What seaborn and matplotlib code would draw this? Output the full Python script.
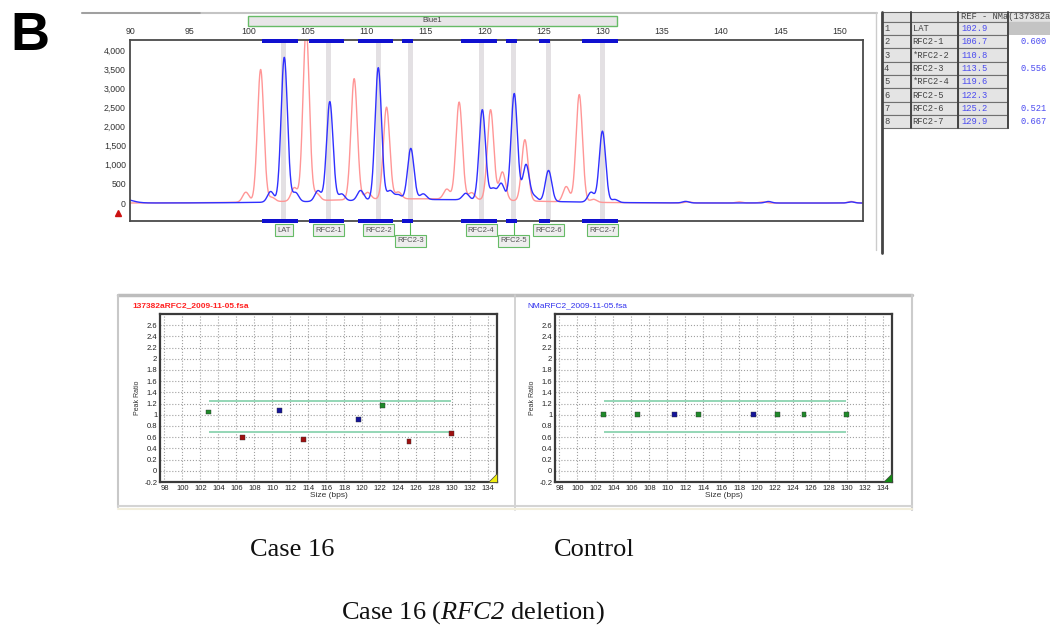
import numpy as np
import pandas as pd
import matplotlib
matplotlib.use("Agg")
import matplotlib.pyplot as plt
import matplotlib.transforms as mtrans
from matplotlib.patches import Rectangle, Polygon
from matplotlib.ticker import MultipleLocator
import seaborn as sns

# ---- data ----
# electropherogram peaks (bp, height)
blue_pos = [101.9, 103.05, 104.0, 105.9, 106.9, 107.9, 109.5, 111.0, 112.0, 112.7,
            113.75, 114.8, 118.4, 119.8, 120.7, 121.4, 122.5, 123.5, 124.2, 125.4,
            129.0, 129.96, 131.0, 137.0, 144.0, 151.0]
blue_height = [280, 3780, 240, 280, 2600, 180, 260, 3460, 240, 130,
               1340, 150, 170, 2360, 300, 440, 2800, 950, 120, 810,
               260, 1860, 80, 40, 40, 30]
red_pos = [99.8, 101.05, 102.0, 103.9, 104.9, 105.8, 108.96, 110.1, 111.7, 112.7,
           116.8, 117.84, 118.9, 120.5, 121.5, 123.4, 126.9, 128.0, 129.2,
           137.2, 141.5, 143.5, 151.0]
red_height = [260, 3460, 110, 350, 4500, 180, 3160, 180, 2400, 180,
              260, 2540, 180, 2360, 740, 1600, 400, 2810, 80,
              30, 30, 30, 40]
# broad baseline humps (bp, height, width)
blue_base = [(115.5, 90, 8.0), (89.3, 110, 0.8)]
red_base = [(114.0, 110, 8.0)]

# probe bins (bp)
bin_lo = [101.2, 105.15, 109.25, 112.97, 118.0, 121.84, 124.6, 128.27]
bin_hi = [104.2, 108.1, 112.26, 113.95, 121.07, 122.74, 125.56, 131.28]
bin_mid = [103.0, 106.8, 111.0, 113.7, 119.7, 122.45, 125.4, 129.95]
dye_range = (100.0, 131.2)

# probes and ratios
probes = ["LAT", "RFC2-1", "*RFC2-2", "RFC2-3", "*RFC2-4", "RFC2-5", "RFC2-6", "RFC2-7"]
sizes = [102.9, 106.7, 110.8, 113.5, 119.6, 122.3, 125.2, 129.9]
case_ratio = [1.05, 0.600, 1.07, 0.556, 0.92, 1.16, 0.521, 0.667]
case_status = ["ok", "del", "ref", "del", "ref", "ok", "del", "del"]
ctrl_ratio = [1.0, 1.0, 1.0, 1.0, 1.0, 1.0, 1.0, 1.0]
ctrl_status = ["ok", "ok", "ref", "ok", "ref", "ok", "ok", "ok"]
upper_limit, lower_limit = 1.25, 0.7

ratio_ticks = [-0.2, 0, 0.2, 0.4, 0.6, 0.8, 1, 1.2, 1.4, 1.6, 1.8, 2, 2.2, 2.4, 2.6]
size_ticks = list(range(98, 136, 2))
height_ticks = list(range(0, 4001, 500))
bp_ticks = list(range(90, 151, 5))

# ---- figure ----
W, H = 1050, 644
sns.set_style("white")
plt.rcParams["font.family"] = ["Liberation Sans", "DejaVu Sans"]
# math text is only used for the italic gene name in the caption
plt.rcParams["mathtext.fontset"] = "custom"
plt.rcParams["mathtext.rm"] = "Liberation Serif:italic"
plt.rcParams["mathtext.it"] = "Liberation Serif:italic"

fig = plt.figure(figsize=(W / 100, H / 100), dpi=100)


def box(x0, y0, x1, y1):
    return [x0 / W, 1 - y1 / H, (x1 - x0) / W, (y1 - y0) / H]


# overlay for frames / table, pixel coordinates
ov = fig.add_axes([0, 0, 1, 1])
ov.set_xlim(0, W)
ov.set_ylim(H, 0)
ov.axis("off")

# top panel frame
ov.plot([82, 877], [12.5, 12.5], color="#c4c4c4", lw=1.5)
ov.plot([82, 200], [12.5, 12.5], color="#999999", lw=1.2)
ov.plot([876, 876], [12, 250], color="#cccccc", lw=1)

# table
cols = [882, 910.7, 958.3, 1008.3, 1052]
hdr0, hdr1, rh = 11.7, 21.7, 13.33
ov.add_patch(Rectangle((cols[0], hdr0), cols[4] - cols[0], hdr1 - hdr0,
                       fc="#e2e2e2", ec="#666666", lw=0.8))
ov.text(cols[2] + 3, (hdr0 + hdr1) / 2, "REF - NMa(137382a", family="Liberation Mono",
        fontsize=6.3, color="#444444", va="center", ha="left", clip_on=True)
for i, name in enumerate(probes):
    y0 = hdr1 + i * rh
    for c in range(3):
        ov.add_patch(Rectangle((cols[c], y0), cols[c + 1] - cols[c], rh,
                               fc="#e4e4e4", ec="#707070", lw=0.8))
    ov.add_patch(Rectangle((cols[3], y0), cols[4] - cols[3], rh,
                           fc="#c4c4c4" if i == 0 else "white", ec="none"))
    yc = y0 + rh / 2
    ov.text(cols[0] + 2, yc, str(i + 1), family="Liberation Mono", fontsize=6.3,
            color="#444444", va="center")
    ov.text(cols[1] + 2, yc, name, family="Liberation Mono", fontsize=6.3,
            color="#444444", va="center")
    ov.text(cols[2] + 3, yc, f"{sizes[i]:.1f}", family="Liberation Mono", fontsize=6.3,
            color="#4a4af0", va="center")
    if case_status[i] == "del":
        ov.text(cols[3] + 12, yc, f"{case_ratio[i]:.3f}", family="Liberation Mono",
                fontsize=6.3, color="#4a4af0", va="center")
tbl_bottom = hdr1 + len(probes) * rh
for c in cols[1:4]:
    ov.plot([c, c], [hdr0, tbl_bottom], color="#444444", lw=1.4)
ov.plot([cols[0], cols[0]], [hdr0, 253], color="#444444", lw=2)

# bottom panel frames
ov.plot([118, 912], [295, 295], color="#bdbdbd", lw=2.5)
ov.plot([118, 118], [295, 507], color="#c8c8c8", lw=1.5)
ov.plot([515, 515], [295, 510], color="#cccccc", lw=1.2)
ov.plot([912, 912], [295, 510], color="#cccccc", lw=1.5)
ov.plot([118, 912], [506, 506], color="#d4d4d4", lw=1.5)
ov.plot([118, 912], [509, 509], color="#f2eedc", lw=1.5)

# ---- electropherogram ----
x_grid = np.linspace(89, 152, 4000)


def trace(pos, height, base, width=0.27):
    y = np.zeros_like(x_grid)
    for c, h in zip(pos, height):
        y += h * np.exp(-0.5 * ((x_grid - c) / width) ** 2)
    for c, h, w in base:
        y += h * np.exp(-0.5 * ((x_grid - c) / w) ** 2)
    return y


df_trace = pd.concat([
    pd.DataFrame({"bp": x_grid, "rfu": trace(red_pos, red_height, red_base), "dye": "red"}),
    pd.DataFrame({"bp": x_grid, "rfu": trace(blue_pos, blue_height, blue_base), "dye": "blue"}),
])

ax = fig.add_axes(box(130, 40, 863, 221))
for mid in bin_mid:
    ax.axvspan(mid - 0.22, mid + 0.22, color="#e3e0e3", lw=0, zorder=0)
sns.lineplot(data=df_trace, x="bp", y="rfu", hue="dye", hue_order=["red", "blue"],
             palette={"red": "#ff9696", "blue": "#3030ff"}, estimator=None,
             errorbar=None, lw=1, legend=False, ax=ax)
ax.set_xlim(90, 152)
ax.set_ylim(-470, 4260)
ax.set_xlabel("")
ax.set_ylabel("")
ax.xaxis.tick_top()
ax.set_xticks(bp_ticks)
ax.set_xticklabels([str(t) for t in bp_ticks])
ax.set_yticks(height_ticks)
ax.set_yticklabels([f"{t:,}" for t in height_ticks])
ax.tick_params(axis="both", labelsize=6.3, colors="#333333", length=0, pad=3)
for s in ax.spines.values():
    s.set_color("#4a4a4a")
    s.set_linewidth(1.3)

bt = mtrans.blended_transform_factory(ax.transData, ax.transAxes)
for lo, hi in zip(bin_lo, bin_hi):
    for y0 in (0.984, -0.012):
        ax.add_patch(Rectangle((lo, y0), hi - lo, 0.022, transform=bt, fc="#1010d0",
                               ec="none", clip_on=False, zorder=5))
staggered = {"RFC2-3", "RFC2-5"}
for name, mid in zip(probes, bin_mid):
    label = name.lstrip("*")
    ly = -0.11 if label in staggered else -0.05
    if label in staggered:
        ax.plot([mid, mid], [-0.012, ly + 0.03], transform=bt, color="#55bb55",
                lw=0.8, clip_on=False)
    ax.text(mid, ly, label, transform=bt, ha="center", va="center", fontsize=5.5,
            color="#555555", clip_on=False,
            bbox=dict(boxstyle="square,pad=0.3", fc="#eeeeee", ec="#66bb66", lw=0.8))

ax.add_patch(Rectangle((dye_range[0], 1.077), dye_range[1] - dye_range[0], 0.056,
                       transform=bt, fc="#e8e6e8", ec="#66bb66", lw=1, clip_on=False))
ax.text(sum(dye_range) / 2, 1.105, "Blue1", transform=bt, ha="center", va="center",
        fontsize=5.5, color="#444444")
ax.plot([89.0], [-260], marker="^", ms=4, color="#cc1111", clip_on=False)

# ---- ratio plots ----
status_colors = {"ok": "#1f8a2a", "del": "#a01010", "ref": "#15159a"}


def ratio_panel(rect, ratios, status, title, tcolor, bold, corner):
    a = fig.add_axes(box(*rect))
    dfp = pd.DataFrame({"size": sizes, "ratio": ratios, "status": status})
    a.hlines([upper_limit, lower_limit], min(sizes), max(sizes), color="#94d6b6",
             lw=1.4, zorder=2)
    sns.scatterplot(data=dfp, x="size", y="ratio", hue="status", palette=status_colors,
                    marker="s", s=12, edgecolor="#333333", linewidth=0.3,
                    legend=False, ax=a, zorder=3)
    a.set_xlim(97.5, 135)
    a.set_ylim(-0.2, 2.8)
    a.set_xticks(size_ticks)
    a.set_xticklabels([str(t) for t in size_ticks])
    a.set_yticks(ratio_ticks)
    a.set_yticklabels([f"{t:g}" for t in ratio_ticks])
    a.xaxis.set_minor_locator(MultipleLocator(0.5))
    a.tick_params(axis="both", which="major", labelsize=5.5, colors="#222222",
                  length=2.5, direction="in", pad=2)
    a.tick_params(axis="x", which="minor", length=1.8, direction="in", color="#444444")
    a.grid(True, which="major", ls=":", color="#a0a0a0", lw=0.8)
    a.set_xlabel("Size (bps)", fontsize=6, labelpad=0, color="#333333")
    a.set_ylabel("Peak Ratio", fontsize=5, labelpad=2, color="#333333")
    for s in a.spines.values():
        s.set_color("#3a3a3a")
        s.set_linewidth(1.6)
    a.add_patch(Polygon([(0.972, 0.0), (1.0, 0.0), (1.0, 0.055)], closed=True,
                        transform=a.transAxes, fc=corner, ec="#444444", lw=0.5,
                        clip_on=False, zorder=6))
    fig.text((rect[0] - 28) / W, 1 - 306 / H, title, fontsize=6, color=tcolor,
             fontweight="bold" if bold else "normal", va="center", ha="left")
    return a


ratio_panel((160, 314, 497, 482), case_ratio, case_status,
            "137382aRFC2_2009-11-05.fsa", "#ff2222", True, "#f0ee10")
ratio_panel((555, 314, 892, 482), ctrl_ratio, ctrl_status,
            "NMaRFC2_2009-11-05.fsa", "#3030ee", False, "#138a13")

# ---- captions ----
fig.text(10 / W, 1 - 50 / H, "B", fontsize=39, fontweight="bold", ha="left",
         va="baseline", color="black")
serif = dict(family="Liberation Serif", fontsize=19, color="#111111", ha="center",
             va="center")
fig.text(292 / W, 1 - 550 / H, "Case 16", **serif)
fig.text(594 / W, 1 - 550 / H, "Control", **serif)
fig.text(473 / W, 1 - 613 / H, r"Case 16 ($RFC2$ deletion)", **serif)

fig.savefig("out.png", dpi=100)
